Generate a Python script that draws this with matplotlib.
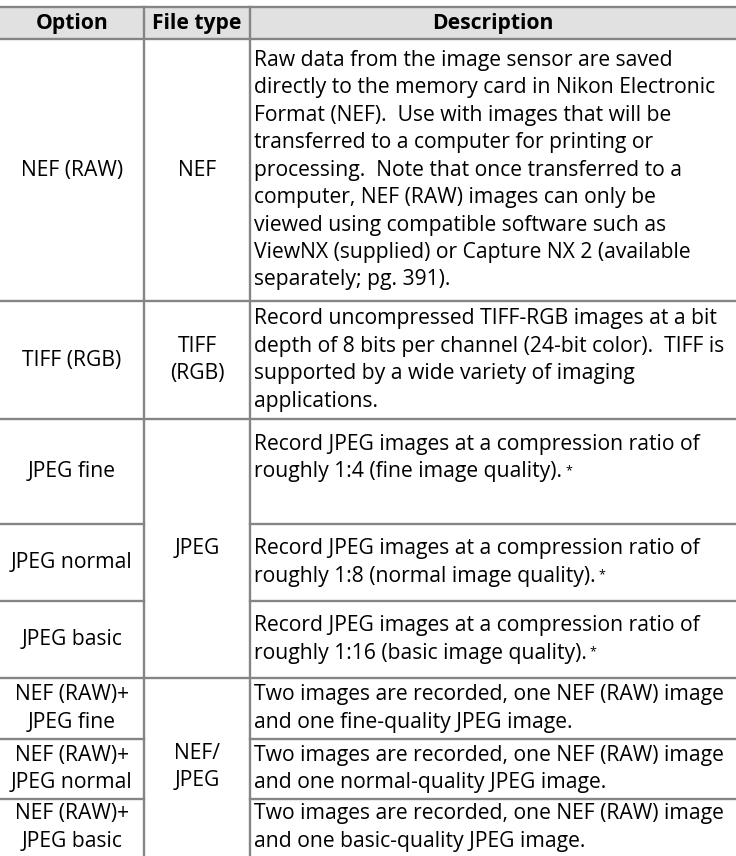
import matplotlib
matplotlib.use("Agg")
import matplotlib.pyplot as plt

plt.rcParams['font.family'] = ['Open Sans', 'DejaVu Sans']

headers = ["Option", "File type", "Description"]

options = [
    ["NEF (RAW)"],
    ["TIFF (RGB)"],
    ["JPEG fine"],
    ["JPEG normal"],
    ["JPEG basic"],
    ["NEF (RAW)+", "JPEG fine"],
    ["NEF (RAW)+", "JPEG normal"],
    ["NEF (RAW)+", "JPEG basic"],
]

# file type label and how many option rows it spans
file_types = [["NEF"], ["TIFF", "(RGB)"], ["JPEG"], ["NEF/", "JPEG"]]
file_spans = [1, 1, 3, 3]

descriptions = [
    ["Raw data from the image sensor are saved",
     "directly to the memory card in Nikon Electronic",
     "Format (NEF).  Use with images that will be",
     "transferred to a computer for printing or",
     "processing.  Note that once transferred to a",
     "computer, NEF (RAW) images can only be",
     "viewed using compatible software such as",
     "ViewNX (supplied) or Capture NX 2 (available",
     "separately; pg. 391)."],
    ["Record uncompressed TIFF-RGB images at a bit",
     "depth of 8 bits per channel (24-bit color).  TIFF is",
     "supported by a wide variety of imaging",
     "applications."],
    ["Record JPEG images at a compression ratio of",
     "roughly 1:4 (fine image quality)."],
    ["Record JPEG images at a compression ratio of",
     "roughly 1:8 (normal image quality)."],
    ["Record JPEG images at a compression ratio of",
     "roughly 1:16 (basic image quality)."],
    ["Two images are recorded, one NEF (RAW) image",
     "and one fine-quality JPEG image."],
    ["Two images are recorded, one NEF (RAW) image",
     "and one normal-quality JPEG image."],
    ["Two images are recorded, one NEF (RAW) image",
     "and one basic-quality JPEG image."],
]
footnote = [False, False, True, True, True, False, False, False]

# layout (pixels)
W, H = 736, 856
col_x = [0, 144, 250, W]
table_top = 7
header_h = 32
row_h = [262, 118, 105, 77, 77, 61, 60, 57]
line_gap = 27.5
fs = 15.2
line_col = "#858585"
lw = 1.7

fig = plt.figure(figsize=(W / 100, H / 100), dpi=100)
ax = fig.add_axes([0, 0, 1, 1])
ax.set_xlim(0, W)
ax.set_ylim(H, 0)
ax.axis("off")

# header
ax.fill_between([0, W], table_top, table_top + header_h, color="#e1e1e1", lw=0)
ax.plot([0, W], [table_top, table_top], color=line_col, lw=lw)
hy = table_top + header_h / 2
for i, h in enumerate(headers):
    ax.text((col_x[i] + col_x[i + 1]) / 2, hy, h, ha="center", va="center",
            fontsize=fs, fontweight="bold")

# row tops
tops = [table_top + header_h]
for h in row_h:
    tops.append(tops[-1] + h)


def draw_lines(x, yc, lines, ha):
    n = len(lines)
    out = []
    for k, s in enumerate(lines):
        y = yc + (k - (n - 1) / 2) * line_gap
        out.append(ax.text(x, y, s, ha=ha, va="center", fontsize=fs))
    return out


foot_texts = []
for r in range(len(options)):
    y0, y1 = tops[r], tops[r + 1]
    yc = (y0 + y1) / 2
    draw_lines((col_x[0] + col_x[1]) / 2, yc, options[r], "center")
    dl = descriptions[r]
    if r == 2:
        # first JPEG row keeps its text near the top
        dl = dl + [""]
    t = draw_lines(col_x[2] + 4, yc, dl, "left")
    if footnote[r]:
        foot_texts.append(t[len(descriptions[r]) - 1])

# file type cells
r = 0
for ft, sp in zip(file_types, file_spans):
    y0, y1 = tops[r], tops[r + sp]
    draw_lines((col_x[1] + col_x[2]) / 2, (y0 + y1) / 2, ft, "center")
    r += sp

# horizontal lines
ax.plot([0, W], [tops[0], tops[0]], color=line_col, lw=lw)
span_end = []
r = 0
for sp in file_spans:
    r += sp
    span_end.append(r)
for r in range(1, len(options)):
    y = tops[r]
    if r in span_end:
        ax.plot([0, W], [y, y], color=line_col, lw=lw)
    else:
        ax.plot([0, col_x[1]], [y, y], color=line_col, lw=lw)
        ax.plot([col_x[2], W], [y, y], color=line_col, lw=lw)

# vertical lines
for x in col_x[1:3]:
    ax.plot([x, x], [table_top, H], color=line_col, lw=lw)

# superscript asterisks
fig.canvas.draw()
rend = fig.canvas.get_renderer()
inv = ax.transData.inverted()
for t in foot_texts:
    bb = t.get_window_extent(rend)
    x1, ytop = inv.transform((bb.x1, bb.y1))
    ax.text(x1 + 3, ytop + 3, "*", ha="left", va="top", fontsize=9)

fig.savefig("out.png", dpi=100)
